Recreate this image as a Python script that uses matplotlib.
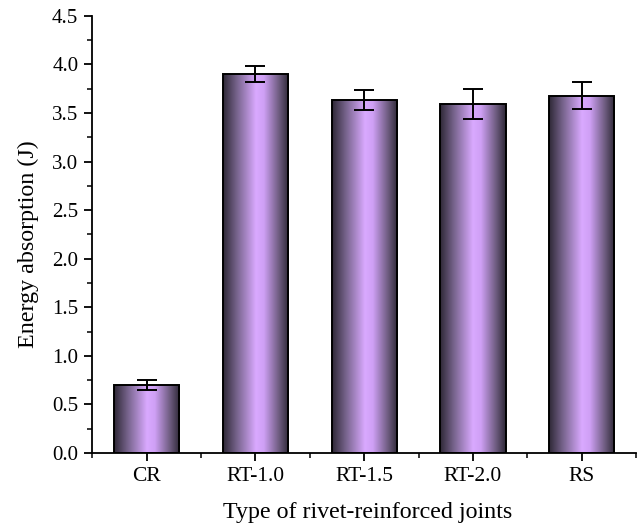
import numpy as np
import matplotlib
matplotlib.use("Agg")
import matplotlib.pyplot as plt
from matplotlib.colors import LinearSegmentedColormap
from matplotlib.ticker import MultipleLocator

plt.rcParams['font.family'] = ['Liberation Serif', 'DejaVu Serif']

joints = ['CR', 'RT-1.0', 'RT-1.5', 'RT-2.0', 'RS']
energy = [0.70, 3.90, 3.635, 3.59, 3.68]   # J
energy_err = [0.055, 0.08, 0.105, 0.155, 0.135]

# dark edges, light violet centre -> cylinder-like shading
shade = LinearSegmentedColormap.from_list(
    'cyl', [(0.0, '#2e2836'), (0.22, '#7a6690'), (0.5, '#d9a9ff'),
            (0.62, '#cfa0f5'), (0.85, '#6e5c80'), (1.0, '#2e2836')])

fig = plt.figure(figsize=(6.4, 5.28), dpi=100)
ax = fig.add_axes([0.144, 0.142, 0.850, 0.828])

x = np.arange(len(joints))
width = 0.6
bars = ax.bar(x, energy, width, color='none', edgecolor='black', linewidth=1.4, zorder=3)

grad = np.linspace(0, 1, 256).reshape(1, -1)
for b in bars:
    x0, y0 = b.get_x(), b.get_y()
    im = ax.imshow(grad, cmap=shade, aspect='auto', zorder=2,
                   extent=[x0, x0 + b.get_width(), y0, y0 + b.get_height()])
    im.set_clip_path(b)

ax.errorbar(x, energy, yerr=energy_err, fmt='none', ecolor='black',
            elinewidth=1.4, capsize=7, capthick=1.4, zorder=4)

ax.set_xlim(-0.5, 4.5)
ax.set_ylim(0, 4.5)
ax.set_xticks(x)
ax.set_xticklabels(joints)
ax.xaxis.set_minor_locator(MultipleLocator(1, offset=0.5))
ax.yaxis.set_major_locator(MultipleLocator(0.5))
ax.yaxis.set_minor_locator(MultipleLocator(0.25))
ax.yaxis.set_major_formatter(plt.FormatStrFormatter('%.1f'))

for s in ('top', 'right'):
    ax.spines[s].set_visible(False)
for s in ('left', 'bottom'):
    ax.spines[s].set_linewidth(1.3)

ax.tick_params(which='major', direction='out', length=6, width=1.3, pad=4)
ax.tick_params(which='minor', direction='out', length=3.3, width=1.1)
ax.tick_params(axis='x', labelsize=15.5)
ax.tick_params(axis='y', labelsize=15)

ax.set_xlabel('Type of rivet-reinforced joints', fontsize=17.3)
ax.set_ylabel('Energy absorption (J)', fontsize=17.3)
ax.xaxis.set_label_coords(0.5055, -0.112)
ax.yaxis.set_label_coords(-0.097, 0.478)

fig.savefig('out.png', dpi=100)
